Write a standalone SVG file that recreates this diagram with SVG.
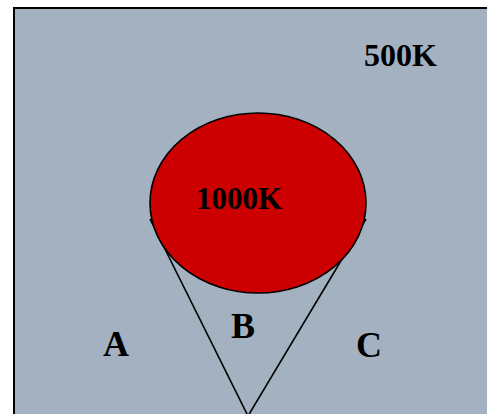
<svg xmlns="http://www.w3.org/2000/svg" width="487" height="414" viewBox="0 0 487 414">
<style>
.t{font-family:"Liberation Serif","Times New Roman",serif;font-weight:bold;fill:#000}
.ln{stroke:#000;stroke-width:1.6;fill:none}
</style>
<rect x="0" y="0" width="487" height="414" fill="#fff"/>
<g id="region500K">
<rect x="14" y="8" width="490" height="420" fill="#A3B1C0" stroke="#000" stroke-width="2"/>
<text class="t" x="364" y="66" font-size="32">500K</text>
</g>
<g id="connectors">
<line class="ln" x1="150" y1="219" x2="248" y2="416"/>
<line class="ln" x1="366" y1="219" x2="248" y2="416"/>
</g>
<g id="region1000K">
<ellipse cx="258" cy="203" rx="108" ry="90" fill="#CC0000" stroke="#000" stroke-width="1.6"/>
<text class="t" x="196" y="209" font-size="31">1000K</text>
</g>
<g id="labelA"><text class="t" x="103" y="356" font-size="36">A</text></g>
<g id="labelB"><text class="t" x="231" y="338" font-size="36">B</text></g>
<g id="labelC"><text class="t" x="356" y="357" font-size="36">C</text></g>
</svg>
